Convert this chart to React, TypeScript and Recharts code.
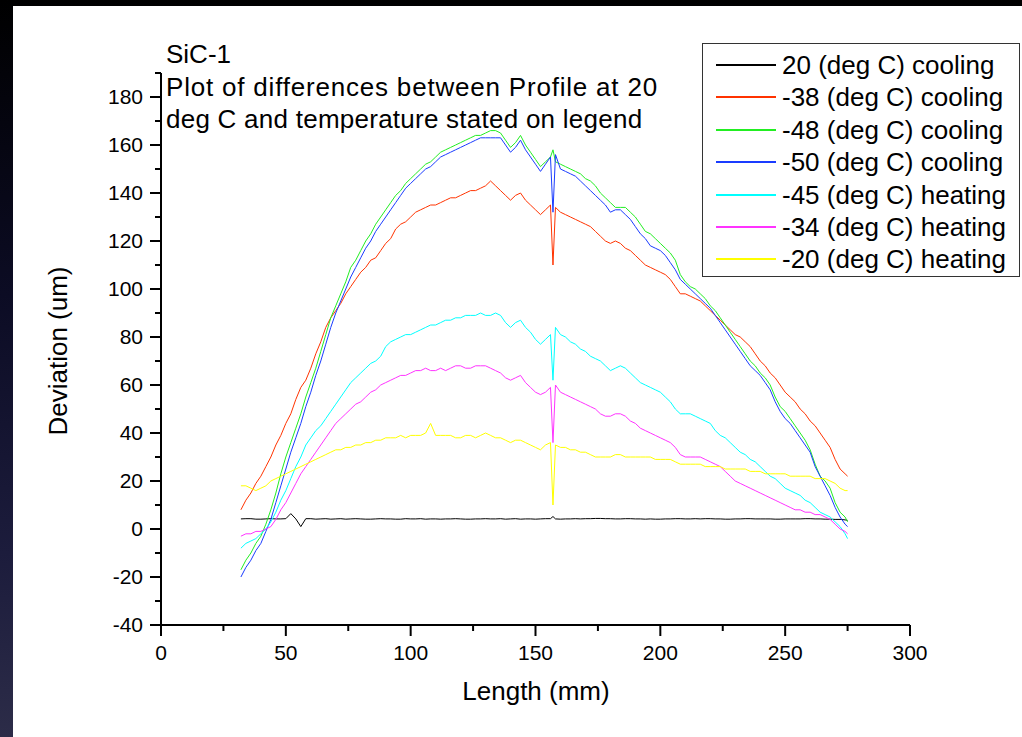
import { LineChart, Line, XAxis, YAxis } from "recharts";

const lengths = [
  32, 34, 36, 38, 40, 42, 44, 46, 48, 50,
  52, 54, 56, 58, 60, 62, 64, 66, 68, 70,
  72, 74, 76, 78, 80, 82, 84, 86, 88, 90,
  92, 94, 96, 98, 100, 102, 104, 106, 108, 110,
  112, 114, 116, 118, 120, 122, 124, 126, 128, 130,
  132, 134, 136, 138, 140, 142, 144, 146, 148, 150,
  152, 154, 156, 157, 158, 160, 162, 164, 166, 168,
  170, 172, 174, 176, 178, 180, 182, 184, 186, 188,
  190, 192, 194, 196, 198, 200, 202, 204, 206, 208,
  210, 212, 214, 216, 218, 220, 222, 224, 226, 228,
  230, 232, 234, 236, 238, 240, 242, 244, 246, 248,
  250, 252, 254, 256, 258, 260, 262, 264, 266, 268,
  270, 272, 274, 275,
];

const cool20 = [
  4.2, 4.3, 4.3, 4.1, 4.1, 4.2, 4.3, 4.2, 4.2, 4.3,
  6.4, 4.2, 1.0, 4.3, 4.3, 4.1, 4.2, 4.3, 4.1, 4.2,
  4.3, 4.1, 4.2, 4.3, 4.2, 4.1, 4.1, 4.2, 4.3, 4.2,
  4.2, 4.1, 4.1, 4.3, 4.2, 4.2, 4.3, 4.1, 4.2, 4.2,
  4.1, 4.2, 4.2, 4.3, 4.2, 4.1, 4.1, 4.2, 4.2, 4.3,
  4.2, 4.2, 4.3, 4.1, 4.2, 4.3, 4.1, 4.2, 4.2, 4.1,
  4.2, 4.3, 4.3, 5.2, 4.2, 4.1, 4.2, 4.2, 4.3, 4.2,
  4.3, 4.3, 4.4, 4.4, 4.3, 4.3, 4.2, 4.2, 4.3, 4.3,
  4.2, 4.2, 4.1, 4.2, 4.1, 4.1, 4.2, 4.2, 4.3, 4.3,
  4.2, 4.2, 4.3, 4.2, 4.3, 4.3, 4.2, 4.2, 4.1, 4.1,
  4.2, 4.2, 4.3, 4.3, 4.2, 4.2, 4.2, 4.2, 4.1, 4.1,
  4.2, 4.2, 4.2, 4.2, 4.3, 4.3, 4.2, 4.2, 4.1, 4.1,
  4.0, 4.0, 3.8, 3.6,
];

const cool38 = [
  8, 12, 15, 19, 22, 26, 30, 35, 39, 44,
  48, 54, 59, 62, 67, 73, 78, 84, 88, 91,
  94, 98, 101, 104, 107, 109, 112, 113, 116, 119,
  121, 125, 127, 128, 130, 132, 133, 134, 135, 135,
  136, 137, 138, 138, 139, 140, 141, 141, 142, 143,
  145, 143, 141, 139, 137, 139, 140, 137, 135, 133,
  131, 133, 135, 110, 134, 132, 131, 130, 129, 128,
  127, 126, 124, 122, 120, 119, 120, 119, 117, 116,
  114, 112, 110, 109, 108, 107, 106, 104, 101, 98,
  98, 97, 96, 95, 93, 91, 89, 87, 85, 83,
  81, 80, 78, 76, 73, 70, 68, 65, 63, 60,
  57, 55, 53, 50, 48, 45, 43, 40, 37, 34,
  29, 25, 23, 22,
];

const cool48 = [
  -17, -13, -10, -6, -3, 2, 8, 15, 23, 30,
  36, 42, 48, 55, 61, 67, 74, 81, 88, 93,
  98, 103, 109, 112, 116, 120, 123, 127, 130, 133,
  136, 139, 141, 144, 146, 148, 150, 152, 153, 155,
  157, 158, 159, 160, 161, 162, 163, 164, 164, 165,
  166, 166, 165, 162, 159, 161, 164, 160, 157, 154,
  151, 153, 155, 158, 153, 152, 151, 150, 149, 148,
  146, 145, 143, 140, 138, 136, 134, 134, 134, 132,
  130, 127, 124, 123, 121, 119, 117, 115, 112, 106,
  103, 101, 100, 98, 96, 93, 91, 88, 85, 82,
  79, 76, 73, 70, 68, 65, 63, 60, 55, 51,
  49, 46, 43, 40, 37, 33, 27, 22, 20, 17,
  11, 7, 5, 3,
];

const cool50 = [
  -20, -16, -13, -9, -6, -1, 4, 11, 18, 25,
  32, 38, 44, 51, 57, 64, 70, 77, 84, 90,
  95, 100, 105, 109, 113, 117, 120, 124, 127, 130,
  133, 136, 139, 142, 144, 146, 148, 150, 151, 153,
  155, 156, 157, 158, 159, 160, 161, 162, 163, 163,
  163, 163, 163, 160, 157, 159, 162, 158, 155, 152,
  149, 152, 155, 132, 156, 150, 149, 148, 147, 145,
  143, 141, 139, 137, 135, 132, 133, 133, 131, 129,
  126, 123, 121, 118, 117, 116, 114, 111, 108, 104,
  102, 100, 98, 96, 94, 92, 89, 86, 83, 80,
  77, 74, 71, 68, 66, 64, 61, 58, 53, 49,
  46, 44, 41, 38, 35, 32, 26, 22, 18, 14,
  9, 5, 2, 1,
];

const heat45 = [
  -8, -6, -5, -4, -2, 0, 3, 7, 12, 16,
  21, 26, 30, 35, 38, 41, 43, 46, 49, 52,
  55, 58, 61, 63, 65, 67, 69, 70, 72, 76,
  78, 79, 80, 81, 81, 82, 83, 84, 85, 85,
  86, 87, 87, 88, 88, 89, 89, 89, 90, 89,
  89, 90, 89, 86, 84, 86, 87, 84, 82, 79,
  77, 79, 81, 62, 84, 81, 80, 78, 77, 75,
  74, 72, 71, 70, 68, 66, 67, 68, 67, 65,
  63, 61, 60, 59, 58, 57, 55, 53, 50, 48,
  48, 48, 47, 46, 45, 44, 41, 39, 38, 36,
  34, 32, 31, 29, 28, 26, 24, 22, 21, 19,
  17, 16, 15, 14, 12, 11, 9, 7, 6, 5,
  3, 1, -2, -4,
];

const heat34 = [
  -3, -2, -2, -1, -1, 0, 1, 4, 8, 11,
  15, 19, 23, 26, 29, 32, 35, 38, 41, 44,
  46, 48, 50, 52, 53, 55, 57, 58, 60, 61,
  62, 63, 64, 64, 65, 66, 66, 67, 66, 66,
  67, 66, 67, 68, 68, 67, 67, 68, 68, 68,
  67, 66, 65, 63, 62, 63, 64, 61, 59, 57,
  56, 57, 59, 36, 60, 57, 56, 55, 54, 53,
  52, 51, 50, 48, 47, 47, 48, 48, 47, 45,
  44, 42, 41, 40, 39, 38, 37, 36, 34, 31,
  30, 30, 30, 30, 29, 28, 27, 26, 24, 22,
  20, 19, 18, 17, 16, 15, 14, 13, 12, 11,
  10, 9, 8, 8, 7, 7, 6, 6, 5, 4,
  2, 0, -1, -2,
];

const heat20 = [
  18, 18, 17, 16, 17, 18, 20, 21, 22, 23,
  24, 25, 26, 27, 28, 29, 30, 31, 32, 33,
  33, 34, 34, 35, 35, 36, 36, 37, 37, 38,
  38, 38, 39, 38, 39, 39, 39, 40, 44, 39,
  39, 39, 39, 38, 38, 39, 39, 38, 39, 40,
  39, 38, 38, 37, 36, 37, 37, 36, 35, 34,
  33, 35, 36, 10, 35, 34, 34, 33, 33, 32,
  32, 31, 30, 30, 30, 30, 31, 31, 30, 30,
  30, 30, 30, 30, 29, 29, 29, 29, 28, 27,
  27, 27, 27, 27, 26, 26, 26, 26, 25, 25,
  25, 25, 25, 24, 24, 24, 23, 23, 23, 23,
  23, 22, 22, 22, 22, 22, 21, 21, 21, 20,
  19, 17, 16, 16,
];

const xTicks = [0, 25, 50, 75, 100, 125, 150, 175, 200, 225, 250, 275, 300];
const yTicks = [-40, -30, -20, -10, 0, 10, 20, 30, 40, 50, 60, 70, 80, 90, 100, 110, 120, 130, 140, 150, 160, 170, 180, 190];

const titleLines = ["SiC-1", "Plot of differences between Profile at 20", "deg C and temperature stated on legend"];

const series = [
  { key: "s0", name: "20 (deg C) cooling", color: "#000000", values: cool20 },
  { key: "s1", name: "-38 (deg C) cooling", color: "#ff3300", values: cool38 },
  { key: "s2", name: "-48 (deg C) cooling", color: "#22ee22", values: cool48 },
  { key: "s3", name: "-50 (deg C) cooling", color: "#1a3cff", values: cool50 },
  { key: "s4", name: "-45 (deg C) heating", color: "#00ffff", values: heat45 },
  { key: "s5", name: "-34 (deg C) heating", color: "#ff33ff", values: heat34 },
  { key: "s6", name: "-20 (deg C) heating", color: "#ffff00", values: heat20 },
];

const data = lengths.map((x, i) => {
  const row: any = { x };
  series.forEach((s) => (row[s.key] = s.values[i]));
  return row;
});

const FONT = '"Liberation Sans", Arial, sans-serif';

const YTick = ({ x, y, payload }: any) => {
  const major = payload.value % 20 === 0;
  return (
    <g>
      <line x1={x - (major ? 11 : 6)} x2={x} y1={y} y2={y} stroke="#000" strokeWidth={2} />
      {major && (
        <text x={x - 18} y={y} dy={7} textAnchor="end" fontSize={21} fontFamily={FONT} fill="#000">
          {payload.value}
        </text>
      )}
    </g>
  );
};

const XTick = ({ x, y, payload }: any) => {
  const major = payload.value % 50 === 0;
  return (
    <g>
      <line x1={x} x2={x} y1={y} y2={y + (major ? 11 : 6)} stroke="#000" strokeWidth={2} />
      {major && (
        <text x={x} y={y + 35} textAnchor="middle" fontSize={21} fontFamily={FONT} fill="#000">
          {payload.value}
        </text>
      )}
    </g>
  );
};

export default function App() {
  return (
    <div
      style={{
        position: "absolute",
        left: 0,
        top: 0,
        width: 1022,
        height: 737,
        background: "linear-gradient(to bottom, #000 0%, #0c0c24 40%, #1c1c3c 75%, #2c2c48 100%)",
        fontFamily: FONT,
        overflow: "hidden",
      }}
    >
      <div style={{ position: "absolute", left: 13, top: 6, right: 0, bottom: 0, background: "#fff" }} />
      <div style={{ position: "absolute", left: 0, top: 0 }}>
        <LineChart
          width={1022}
          height={737}
          data={data}
          margin={{ top: 73, right: 112, left: 101, bottom: 72 }}
        >
          <XAxis
            dataKey="x"
            type="number"
            domain={[0, 300]}
            ticks={xTicks}
            interval={0}
            height={40}
            tickSize={0}
            tickMargin={0}
            tickLine={false}
            axisLine={{ stroke: "#000", strokeWidth: 2 }}
            tick={<XTick />}
          />
          <YAxis
            type="number"
            domain={[-40, 190]}
            ticks={yTicks}
            interval={0}
            width={60}
            tickSize={0}
            tickMargin={0}
            tickLine={false}
            axisLine={{ stroke: "#000", strokeWidth: 2 }}
            tick={<YTick />}
          />
          {series.map((s) => (
            <Line
              key={s.key}
              dataKey={s.key}
              name={s.name}
              type="linear"
              stroke={s.color}
              strokeWidth={1}
              dot={false}
              isAnimationActive={false}
            />
          ))}
        </LineChart>
      </div>

      <div style={{ position: "absolute", left: 166, top: 38, fontSize: 26, lineHeight: "32.5px", color: "#000", whiteSpace: "nowrap" }}>
        <div>{titleLines[0]}</div>
        <div style={{ letterSpacing: 0.8 }}>{titleLines[1]}</div>
        <div style={{ letterSpacing: 0.25 }}>{titleLines[2]}</div>
      </div>

      <div
        style={{
          position: "absolute",
          left: 58,
          top: 351,
          transform: "translate(-50%, -50%) rotate(-90deg)",
          fontSize: 26,
          lineHeight: "26px",
          whiteSpace: "nowrap",
          color: "#000",
        }}
      >
        Deviation (um)
      </div>
      <div
        style={{
          position: "absolute",
          left: 536,
          top: 678,
          transform: "translateX(-50%)",
          fontSize: 26,
          lineHeight: "26px",
          whiteSpace: "nowrap",
          color: "#000",
        }}
      >
        Length (mm)
      </div>

      <div
        style={{
          position: "absolute",
          left: 702,
          top: 43,
          width: 316,
          height: 232,
          border: "1px solid #333",
          background: "#fff",
        }}
      >
        {series.map((s, i) => {
          const rowTop = Math.round(20 + i * 32.4);
          return (
            <div key={s.key}>
              <div style={{ position: "absolute", left: 13, top: rowTop, width: 60, height: 2, background: s.color }} />
              <div
                style={{
                  position: "absolute",
                  left: 79,
                  top: rowTop - 14,
                  fontSize: 26,
                  lineHeight: "30px",
                  whiteSpace: "nowrap",
                  color: "#000",
                }}
              >
                {s.name}
              </div>
            </div>
          );
        })}
      </div>
    </div>
  );
}
